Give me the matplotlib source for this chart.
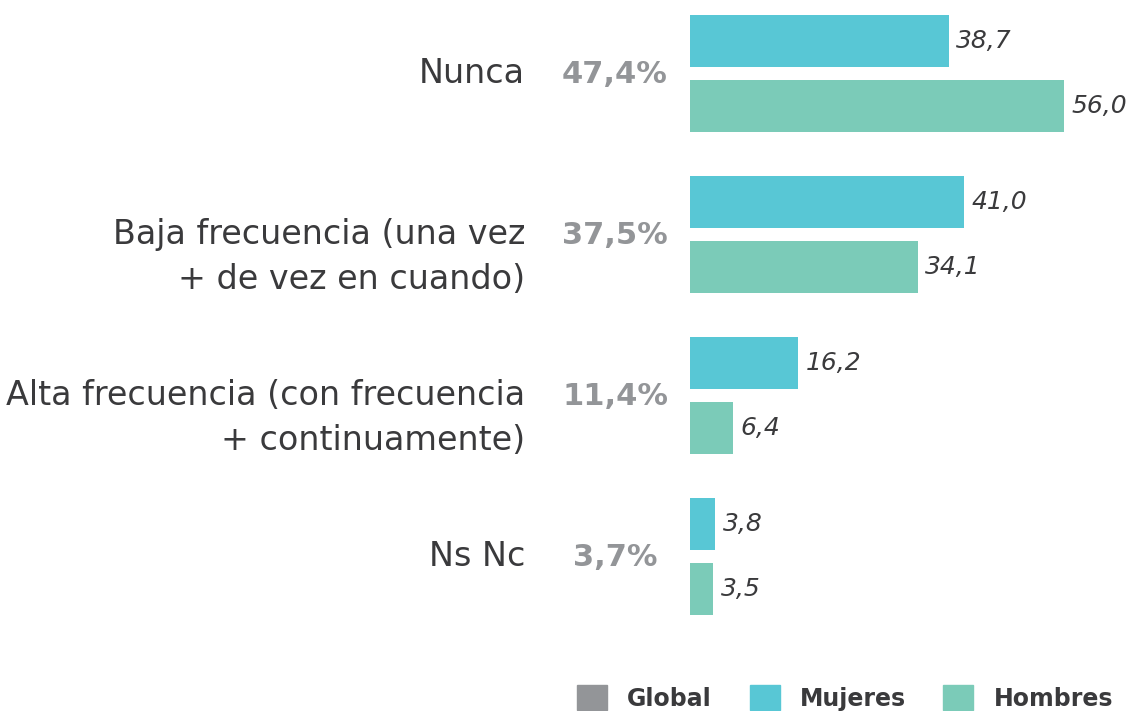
import numpy as np
import matplotlib
matplotlib.use("Agg")
import matplotlib.pyplot as plt
import matplotlib.transforms as mtransforms
from matplotlib.patches import Patch

# --- DADOS ---
categorias = [["Nunca"],
              ["Baja frecuencia (una vez", "+ de vez en cuando)"],
              ["Alta frecuencia (con frecuencia", "+ continuamente)"],
              ["Ns Nc"]]
global_pct = ["47,4%", "37,5%", "11,4%", "3,7%"]
mujeres = [38.7, 41.0, 16.2, 3.8]
hombres = [56.0, 34.1, 6.4, 3.5]

COR_GLOBAL = "#939598"
COR_MUJ = "#58C7D5"
COR_HOM = "#7BCBB8"
COR_TXT = "#3A3A3C"

plt.rcParams['font.family'] = ['DejaVu Sans']

fig = plt.figure(figsize=(11.38, 7.11), dpi=100)
ax = fig.add_axes([690 / 1138, 0, 1 - 690 / 1138, 1])

y = np.arange(len(categorias))
off = 0.202
h = 0.323
b1 = ax.barh(y - off, mujeres, height=h, color=COR_MUJ)
b2 = ax.barh(y + off, hombres, height=h, color=COR_HOM)

ax.set_xlim(0, 67)
ax.set_ylim(3.96, -0.4565)
ax.axis("off")

# rótulos dos valores
for bars, vals in ((b1, mujeres), (b2, hombres)):
    for bar, v in zip(bars, vals):
        ax.text(v + 1.1, bar.get_y() + bar.get_height() / 2,
                f"{v:.1f}".replace(".", ","), style="italic",
                fontsize=18, color=COR_TXT, va="center", ha="left")

# categorias e global (linha 1 centrada no grupo)
trans = mtransforms.blended_transform_factory(fig.transFigure, ax.transData)
base = 0.06     # deslocamento da linha de base
passo = 0.28    # espaçamento entre linhas
for i, (linhas, g) in enumerate(zip(categorias, global_pct)):
    for k, txt in enumerate(linhas):
        ax.text(525 / 1138, i + base + k * passo, txt, transform=trans,
                ha="right", va="baseline", fontsize=24, color=COR_TXT,
                clip_on=False)
    ax.text(615 / 1138, i + base, g, transform=trans, ha="center",
            va="baseline", fontsize=22, fontweight="bold", color=COR_GLOBAL,
            clip_on=False)

# legenda
handles = [Patch(color=COR_GLOBAL, label="Global"),
           Patch(color=COR_MUJ, label="Mujeres"),
           Patch(color=COR_HOM, label="Hombres")]
leg = fig.legend(handles=handles, ncol=3, loc="center",
                 bbox_to_anchor=(845 / 1138, 1 - 698 / 711), frameon=False,
                 prop={"size": 17, "weight": "bold"}, handlelength=1.27,
                 handleheight=1.27, handletextpad=0.85, columnspacing=1.6,
                 borderpad=0, borderaxespad=0)
for t in leg.get_texts():
    t.set_color(COR_TXT)

fig.savefig("out.png", dpi=100)
